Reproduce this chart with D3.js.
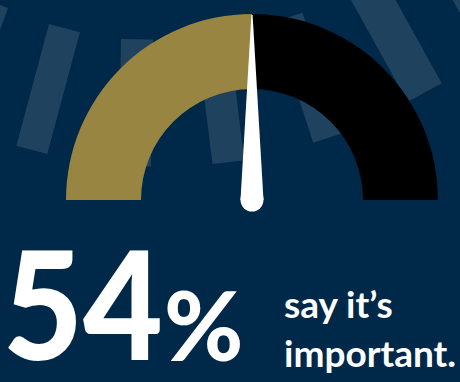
<!DOCTYPE html>
<html>
  <head>
    <title>Gauge 54%</title>
    <script src="https://d3js.org/d3.v7.min.js"></script>
    <style>
      body { margin: 0; background: #002849; }
      text { fill: white; font-family: Lato, "Open Sans", sans-serif; font-weight: bold; }
      text.big { font-weight: 900; }
    </style>
  </head>
  <body>
    <script>
      let width = 460, height = 382;

      // gauge segments (share of the half circle), needle reading, headline
      let segments = ["important", "other"];
      let segmentValues = [50, 50];
      let needleValue = 50;
      let headline = 54;
      let captionLines = ["say it\u2019s", "important."];

      let svg = d3.select("body").append("svg")
                  .attr("width", width)
                  .attr("height", height)
                  .style("display", "block")
                  .style("background", "#002849");

      let defs = svg.append("defs");
      let grad = defs.append("linearGradient").attr("id", "dark")
                     .attr("gradientUnits", "userSpaceOnUse")
                     .attr("x1", 252).attr("y1", 0).attr("x2", 438).attr("y2", 0);
      grad.append("stop").attr("offset", "0%").attr("stop-color", "#000000");
      grad.append("stop").attr("offset", "45%").attr("stop-color", "#02080d");
      grad.append("stop").attr("offset", "100%").attr("stop-color", "#000306");

      // background stripes (decoration), x/y = top-left corner before rotation
      let stripes = [
        { x: -22, y: -3, w: 32, h: 127, r: 20 },
        { x: 49, y: 24, w: 32, h: 126, r: 15 },
        { x: 121, y: 39, w: 32, h: 127, r: 1 },
        { x: 197, y: 38, w: 32, h: 127, r: -7 },
        { x: 274, y: 22, w: 30, h: 127, r: -18 },
        { x: 346, y: -9, w: 39, h: 127, r: -29 },
        { x: 400, y: -95, w: 39, h: 127, r: -29 }
      ];
      svg.append("g").selectAll("rect").data(stripes).enter().append("rect")
         .attr("width", d => d.w)
         .attr("height", d => d.h)
         .attr("transform", d => `translate(${d.x},${d.y}) rotate(${d.r})`)
         .attr("fill", "#ffffff")
         .attr("fill-opacity", 0.12);

      let cx = 252, cy = 200, outerR = 186, innerR = 111;

      let pie = d3.pie().sort(null)
                  .startAngle(-Math.PI / 2).endAngle(Math.PI / 2)
                  .value(d => d);
      let arc = d3.arc().innerRadius(innerR).outerRadius(outerR);
      let colors = d3.scaleOrdinal().domain(segments).range(["#978541", "url(#dark)"]);

      // arcs in absolute coords so the gradient lines up
      svg.append("g").selectAll("path").data(pie(segmentValues)).enter().append("path")
         .attr("d", arc)
         .attr("transform", `translate(${cx}, ${cy})`)
         .attr("fill", (d, i) => colors(segments[i]));

      let needleAngle = d3.scaleLinear().domain([0, 100]).range([-90, 90]);
      let baseR = 11.5, tipLen = outerR - 1;
      let needle = svg.append("g")
                      .attr("transform", `translate(${cx}, ${cy}) rotate(${needleAngle(needleValue)})`);
      needle.append("path")
            .attr("d", `M${-baseR},0 L-0.6,${-tipLen} L0.6,${-tipLen} L${baseR},0 Z`)
            .attr("fill", "white");
      needle.append("circle").attr("r", baseR).attr("fill", "white");

      svg.append("text").attr("class", "big")
         .attr("transform", "translate(3, 360) scale(0.92, 1)")
         .style("font-size", "150px")
         .text(d3.format("d")(headline));

      svg.append("text").attr("class", "big")
         .attr("x", 164).attr("y", 361)
         .style("font-size", "96px")
         .text("%");

      svg.append("g").selectAll("text").data(captionLines).enter().append("text")
         .attr("x", 284)
         .attr("y", (d, i) => 318 + i * 49)
         .style("font-size", "37px")
         .text(d => d);
    </script>
  </body>
</html>
